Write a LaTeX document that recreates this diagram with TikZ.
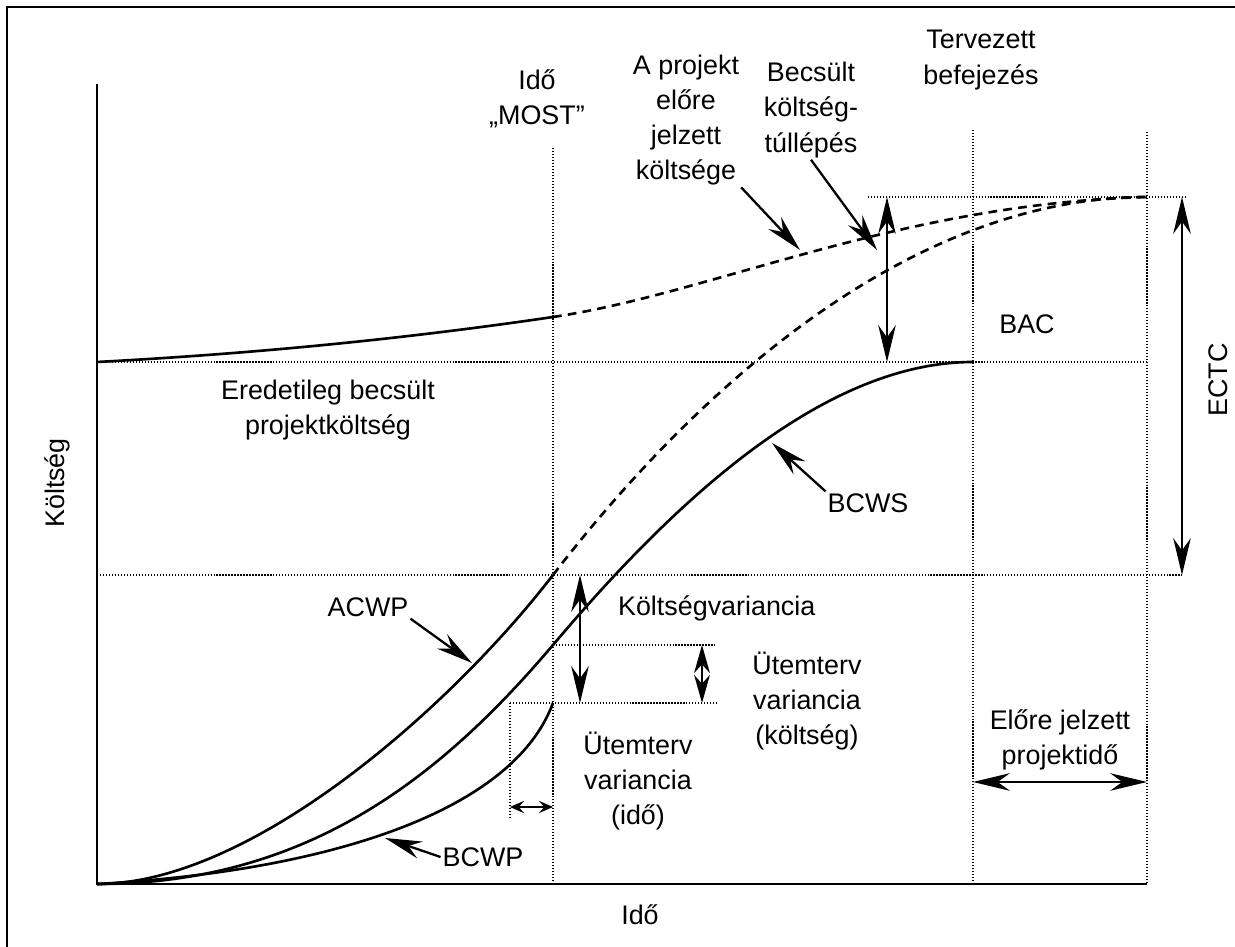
\documentclass[tikz,border=0pt]{standalone}
\usepackage{fontspec}
\setmainfont{Liberation Sans}
\usepackage{tikz}
\usetikzlibrary{
arrows.meta,
positioning
}

\begin{document}
\begin{tikzpicture}[
  >={Stealth[length=21pt, width=10pt, inset=7pt]},
  axis/.style={line width=1.6pt},
  curve/.style={line width=1.5pt},
  forecast/.style={line width=1.5pt, dash pattern=on 5pt off 3.5pt},
  guide/.style={densely dotted, line width=0.7pt},
  dim/.style={<->, line width=1.1pt},
  note/.style={->, line width=1.3pt},
  lbl/.style={font=\fontsize{15.3}{20}\selectfont, inner sep=1pt, align=center}
]
\useasboundingbox (-1.94,-1.26) rectangle (22.76,17.68);

% Frame of the scan
\draw[line width=1.2pt] (-1.8,-1.26) -- (-1.8,17.54) -- (22.76,17.54);

% Axes
\draw[axis] (0,16.0) -- (0,0) -- (21.0,0);

% Guide lines
\draw[guide] (0,10.44) -- (21.0,10.44);
\draw[guide] (0,6.18) -- (21.7,6.18);
\draw[guide] (15.42,13.74) -- (21.8,13.74);
\draw[guide] (9.12,4.78) -- (12.36,4.78);
\draw[guide] (8.26,3.62) -- (12.42,3.62);
\draw[guide] (9.12,14.72) -- (9.12,0);
\draw[guide] (17.52,15.08) -- (17.52,0);
\draw[guide] (21.0,15.04) -- (21.0,0);
\draw[guide] (8.26,3.62) -- (8.26,1.34);

% Original estimate and its forecast
\draw[curve] (0,10.44) .. controls (3,10.6) and (6,10.88) .. (9.12,11.34);
\draw[forecast] (9.12,11.34) .. controls (12.3,11.81) and (16,13.6) .. (21,13.74);

% ACWP, solid up to now, then forecast
\draw[curve] (0,0) .. controls (3.14,0) and (7.15,3.62) .. (9.12,6.18);
\draw[forecast] (9.12,6.18) .. controls (11.0,8.62) and (15.5,13.74) .. (21,13.74);

% BCWS
\draw[curve] (0,0) .. controls (4.21,0) and (6.88,2.14) .. (9.12,4.78)
  .. controls (11.5,7.6) and (14.5,10.44) .. (17.52,10.44);

% BCWP
\draw[curve] (0,0) .. controls (4.5,0.25) and (8.3,1.4) .. (9.12,3.62);

% Labels
\node[lbl] (lnow) at (8.8,15.7) {Idő\\„MOST”};
\node[lbl] (lproj) at (11.78,15.28) {A projekt\\előre\\jelzett\\költsége};
\node[lbl] (lover) at (14.28,15.48) {Becsült\\költség-\\túllépés};
\node[lbl] (lplan) at (17.68,16.48) {Tervezett\\befejezés};
\node[lbl] (lbac) at (18.6,11.2) {BAC};
\node[lbl, rotate=90] (lectc) at (22.42,10.08) {ECTC};
\node[lbl] (lorig) at (4.62,9.48) {Eredetileg becsült\\projektköltség};
\node[lbl, rotate=90] (lcost) at (-0.8,8.02) {Költség};
\node[lbl] (lbcws) at (15.42,7.62) {BCWS};
\node[lbl] (lacwp) at (5.42,5.54) {ACWP};
\node[lbl, anchor=west] (lcv) at (10.38,5.52) {Költségvariancia};
\node[lbl] (lsvc) at (14.2,3.66) {Ütemterv\\variancia\\(költség)};
\node[lbl] (lsvt) at (10.82,2.06) {Ütemterv\\variancia\\(idő)};
\node[lbl] (lfct) at (19.26,2.88) {Előre jelzett\\projektidő};
\node[lbl] (lbcwp) at (7.72,0.54) {BCWP};
\node[lbl] (ltime) at (10.86,-0.62) {Idő};

% Arrow ends
\coordinate (ovtop) at (15.8,13.74);
\coordinate (ovbot) at (15.8,10.44);
\coordinate (ectctop) at (21.7,13.74);
\coordinate (ectcbot) at (21.7,6.18);
\coordinate (cvtop) at (9.66,6.18);
\coordinate (cvbot) at (9.66,3.62);
\coordinate (svctop) at (12.1,4.78);
\coordinate (svcbot) at (12.1,3.62);
\coordinate (svtl) at (8.26,1.54);
\coordinate (svtr) at (9.12,1.54);
\coordinate (fctl) at (17.52,2.04);
\coordinate (fctr) at (21.0,2.04);
\coordinate (acwptip) at (7.5,4.42);
\coordinate (bcwptip) at (5.76,0.92);
\coordinate (bcwstip) at (13.5,8.82);
\coordinate (projtip) at (14.06,12.68);
\coordinate (overtip) at (15.6,12.68);

% Dimension arrows
\draw[dim] (ovtop) -- (ovbot);
\draw[dim] (ectctop) -- (ectcbot);
\draw[dim] (cvtop) -- (cvbot);
\draw[dim, >={Stealth[length=16pt, width=9pt, inset=5pt]}] (svctop) -- (svcbot);
\draw[dim, >={Stealth[length=8pt, width=7pt, inset=3pt]}] (svtl) -- (svtr);
\draw[dim] (fctl) -- (fctr);

% Pointers from labels
\draw[note] (lacwp.south east) -- (acwptip);
\draw[note] (lbcwp.west) -- (bcwptip);
\draw[note] (lbcws.north west) -- (bcwstip);
\draw[note] (lproj.south east) -- (projtip);
\draw[note] (lover.south) -- (overtip);

\end{tikzpicture}
\end{document}
